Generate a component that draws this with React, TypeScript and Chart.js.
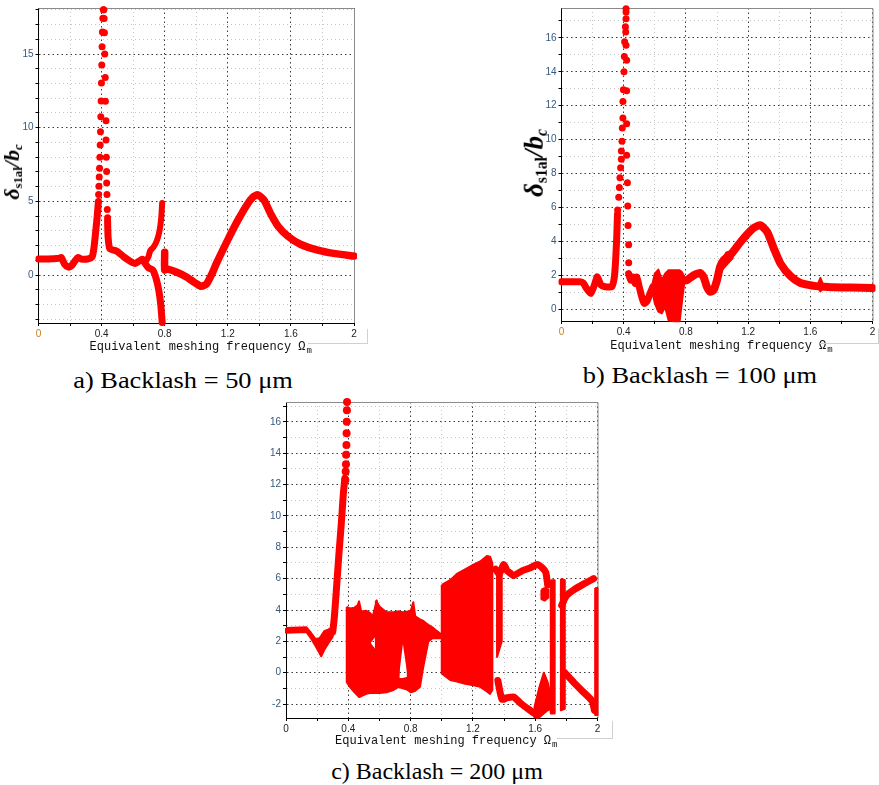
import React, { useEffect, useRef } from 'react';
import { Chart, registerables } from 'chart.js';

Chart.register(...registerables);

type Pt = number[];

const RED = '#ff0000';

// ---------- shared axis values ----------
const xRange = [0, 2];
const xGridStep = 0.2;
const xLabelStep = 0.4;

// ---------- a) Backlash = 50 µm ----------
const aYRange = [-3.24, 18.12];
const aBranchLeft: Pt[] = [[0, 1.1], [0.06, 1.1], [0.13, 1.15], [0.145, 1.2], [0.165, 0.75], [0.19, 0.55], [0.21, 0.65], [0.23, 0.95], [0.25, 1.2], [0.27, 1.1], [0.31, 1.1], [0.34, 1.25], [0.352, 1.9], [0.363, 3.0], [0.373, 4.1], [0.38, 5.0]];
const aPeakRise: Pt[] = [[0.381, 5.47], [0.383, 6.03], [0.385, 6.66], [0.387, 7.26], [0.389, 8.0], [0.391, 8.83], [0.393, 9.73], [0.395, 10.74], [0.397, 11.82], [0.399, 13.03], [0.401, 14.26], [0.403, 15.49], [0.405, 16.5], [0.408, 17.42], [0.411, 18.0]];
const aPeakFall: Pt[] = [[0.414, 18.0], [0.416, 17.4], [0.418, 16.45], [0.42, 15.0], [0.423, 13.4], [0.424, 11.8], [0.428, 10.47], [0.428, 9.17], [0.43, 8.0], [0.432, 7.04], [0.432, 6.26], [0.434, 5.47], [0.436, 4.46], [0.438, 3.9]];
const aBranchMid: Pt[] = [[0.438, 3.7], [0.441, 2.6], [0.452, 1.8], [0.486, 1.67], [0.507, 1.55], [0.539, 1.26], [0.581, 0.95], [0.613, 0.8], [0.644, 1.0], [0.66, 1.08], [0.676, 0.8], [0.697, 0.5], [0.725, 0.35], [0.745, -0.2], [0.762, -1.0], [0.775, -2.0], [0.784, -3.2]];
const aBranchUp: Pt[] = [[0.687, 1.05], [0.697, 1.25], [0.708, 1.66], [0.729, 1.9], [0.75, 2.34], [0.767, 3.0], [0.778, 3.9], [0.784, 4.9]];
const aBranchRight: Pt[] = [[0.8, 1.55], [0.8, 0.35], [0.814, 0.43], [0.877, 0.2], [0.941, -0.13], [0.99, -0.5], [1.03, -0.75], [1.065, -0.6], [1.1, 0.1], [1.13, 0.85], [1.2, 2.4], [1.26, 3.65], [1.32, 4.75], [1.36, 5.3], [1.39, 5.45], [1.43, 5.1], [1.47, 4.2], [1.52, 3.3], [1.58, 2.65], [1.66, 2.1], [1.77, 1.7], [1.87, 1.48], [2.0, 1.3]];

// ---------- b) Backlash = 100 µm ----------
const bYRange = [-0.69, 17.76];
const bBranchLeft: Pt[] = [[0, 1.62], [0.118, 1.62], [0.14, 1.55], [0.161, 1.23], [0.189, 0.94], [0.215, 1.52], [0.23, 1.91], [0.254, 1.42], [0.28, 1.33], [0.323, 1.33], [0.34, 1.91], [0.348, 2.89], [0.355, 4.2], [0.36, 5.6]];
const bPeakRise: Pt[] = [[0.361, 5.85], [0.368, 6.6], [0.372, 7.18], [0.376, 7.76], [0.38, 8.35], [0.385, 8.84], [0.385, 9.33], [0.389, 9.91], [0.391, 10.69], [0.395, 11.28], [0.395, 12.25], [0.398, 12.94], [0.402, 14.0], [0.404, 14.9], [0.406, 15.77], [0.411, 16.65], [0.415, 17.52]];
const bPeakFall: Pt[] = [[0.415, 17.71], [0.415, 17.13], [0.413, 16.35], [0.415, 15.57], [0.419, 14.68], [0.419, 12.88], [0.419, 10.93], [0.419, 9.08], [0.424, 7.46], [0.426, 6.09], [0.428, 4.94], [0.432, 3.81], [0.432, 2.74]];
const bBranchMid: Pt[] = [[0.432, 2.1], [0.445, 1.72], [0.462, 1.9], [0.473, 1.52], [0.484, 1.9], [0.5, 1.32], [0.516, 0.74], [0.531, 0.35], [0.548, 0.45], [0.57, 0.94], [0.587, 1.32]];
// [x, upper, lower]
const bChaos: Pt[] = [[0.585, 1.5, 1.0], [0.6, 2.1, 0.35], [0.623, 2.34, -0.14], [0.645, 1.72, -0.24], [0.666, 2.1, 0.15], [0.688, 2.3, -0.63], [0.72, 2.3, -0.7], [0.76, 2.3, -0.7], [0.774, 2.2, 0.4], [0.79, 1.9, 1.6]];
const bBranchRight: Pt[] = [[0.79, 1.7], [0.806, 1.72], [0.85, 2.0], [0.892, 2.14], [0.914, 1.9], [0.935, 1.32], [0.957, 1.03], [0.978, 1.13], [1.0, 1.72], [1.02, 2.5], [1.043, 2.9], [1.086, 3.2], [1.129, 3.7], [1.172, 4.2], [1.236, 4.8], [1.28, 4.95], [1.323, 4.55], [1.365, 3.6], [1.408, 2.7], [1.473, 1.95], [1.537, 1.55], [1.623, 1.38], [1.66, 1.35], [1.75, 1.3], [1.86, 1.28], [2.0, 1.25]];
const bBump: Pt[] = [[1.645, 1.4, 1.3], [1.665, 1.85, 1.05], [1.685, 1.4, 1.3]];
const bThick: Pt[] = [[1.03, 2.9, 2.3], [1.06, 3.35, 2.6], [1.1, 3.45, 3.0]];

// ---------- c) Backlash = 200 µm ----------
const cYRange = [-2.89, 17.27];
const cStart: Pt[] = [[0, 2.85, 2.55], [0.13, 2.9, 2.6], [0.16, 2.55, 2.2], [0.19, 2.15, 1.7], [0.215, 2.2, 1.25], [0.226, 2.35, 1.05], [0.245, 2.65, 1.45], [0.27, 2.75, 1.85], [0.3, 2.9, 2.3]];
const cRise: Pt[] = [[0.3, 2.6], [0.31, 3.5], [0.325, 5.5], [0.34, 7.6], [0.355, 9.5], [0.368, 11.4], [0.378, 12.4]];
const cPeakDots: Pt[] = [[0.381, 12.3], [0.383, 12.84], [0.385, 13.3], [0.386, 13.9], [0.388, 14.53], [0.389, 15.27], [0.39, 16.01], [0.391, 16.75], [0.392, 17.27]];
const cChaosA: Pt[] = [[0.39, 4.2, -0.6], [0.41, 4.1, -0.9], [0.44, 4.15, -1.25], [0.46, 4.3, -1.45], [0.469, 4.55, -1.55], [0.483, 3.9, -1.5], [0.516, 3.95, -1.35], [0.54, 3.8, -1.3]];
const cHoleTop: Pt[] = [[0.535, 3.8, 1.9], [0.559, 3.65, 2.2], [0.583, 4.6, 2.5]];
const cHoleBottom: Pt[] = [[0.535, 1.9, -1.3], [0.559, 1.6, -1.3], [0.583, 1.2, -1.3]];
const cChaosB: Pt[] = [[0.577, 4.6, -1.3], [0.602, 4.2, -1.3], [0.645, 3.86, -1.25], [0.69, 3.85, -1.1], [0.723, 3.9, -0.9]];
const cVTop: Pt[] = [[0.717, 3.9, -0.4], [0.75, 3.86, 2.3], [0.788, 3.9, -0.3]];
const cVBottom: Pt[] = [[0.717, -0.4, -0.9], [0.75, -0.4, -1.0], [0.788, -0.3, -1.1]];
const cChaosC: Pt[] = [[0.782, 3.9, -1.1], [0.8, 3.9, -1.25], [0.817, 4.5, -1.2], [0.83, 3.6, -1.15], [0.86, 3.4, -0.9], [0.882, 3.3, 0.4], [0.9, 3.15, 1.3], [0.914, 3.05, 2.0], [0.94, 2.9, 2.2], [0.97, 2.65, 2.2], [0.99, 2.5, 2.2]];
const cChaosD: Pt[] = [[1.0, 5.6, -0.05], [1.054, 5.9, -0.46], [1.097, 6.3, -0.57], [1.15, 6.6, -0.7], [1.204, 6.9, -0.8], [1.247, 7.1, -0.9], [1.29, 7.45, -1.2], [1.31, 7.4, -1.35], [1.325, 7.0, -1.1]];
const cStrip1: Pt[] = [[1.355, 6.6, 1.0], [1.385, 6.2, 2.0]];
const cUpper: Pt[] = [[1.345, 6.6], [1.37, 6.3], [1.397, 6.9], [1.42, 6.5], [1.44, 6.35], [1.462, 6.2], [1.516, 6.5], [1.57, 6.7], [1.613, 6.9], [1.644, 6.7], [1.668, 6.4], [1.68, 5.6]];
const cLower: Pt[] = [[1.36, -0.5], [1.387, -1.7], [1.42, -1.6], [1.462, -1.55], [1.505, -1.94], [1.548, -2.26], [1.591, -2.57], [1.613, -2.7]];
const cLowBlob: Pt[] = [[1.595, -2.2, -2.85], [1.625, -1.0, -2.85], [1.655, 0.0, -2.6], [1.68, -0.6, -2.4], [1.7, -1.5, -2.3]];
const cMidBlob: Pt[] = [[1.64, 5.3, 4.7], [1.66, 5.4, 4.6], [1.685, 5.3, 4.8]];
const cStrip2: Pt[] = [[1.7, 5.9, -2.6], [1.725, 5.9, -2.6]];
const cStrip3: Pt[] = [[1.765, 6.0, -2.4], [1.79, 5.9, -2.3]];
const cRightUpper: Pt[] = [[1.77, 4.3], [1.8, 4.9], [1.85, 5.3], [1.91, 5.65], [1.975, 6.0]];
const cRightLower: Pt[] = [[1.79, 0.0], [1.85, -0.65], [1.9, -1.15], [1.965, -1.8], [1.98, -2.4]];
const cStrip4: Pt[] = [[1.985, 5.4, -2.7], [2.0, 5.4, -2.7]];

// ---------- dataset builders ----------
function lineDs(points: Pt[], width: number, tension = 0.2) {
  return {
    data: points.map(([x, y]) => ({ x, y })),
    showLine: true,
    borderColor: RED,
    backgroundColor: RED,
    borderWidth: width,
    pointRadius: 0,
    pointHoverRadius: 0,
    tension,
    fill: false,
    borderCapStyle: 'round',
    borderJoinStyle: 'round',
    clip: 3,
  };
}
function dotDs(points: Pt[], r: number) {
  return {
    data: points.map(([x, y]) => ({ x, y })),
    showLine: false,
    pointRadius: r,
    pointHoverRadius: r,
    pointBackgroundColor: RED,
    pointBorderColor: RED,
    pointBorderWidth: 0,
    clip: 4,
  };
}
// A dense chaotic band: outline = upper edge left→right, then lower edge right→left, filled as a shape.
function bandDs(rows: Pt[]) {
  const top = rows.map(([x, hi]) => ({ x, y: hi }));
  const bottom = rows.slice().reverse().map(([x, , lo]) => ({ x, y: lo }));
  const outline = [...top, ...bottom, top[0]];
  return [
    {
      data: outline,
      showLine: true,
      borderColor: RED,
      borderWidth: 2,
      pointRadius: 0,
      tension: 0,
      fill: 'shape',
      backgroundColor: RED,
      clip: 2,
      borderJoinStyle: 'round',
    },
  ];
}

const near = (v: number, step: number) => Math.abs(v - Math.round(v / step) * step) < 1e-6;

// ---------- plugins ----------
const framePlugin = {
  id: 'frame',
  beforeDatasetsDraw(chart: any) {
    const { ctx, chartArea: a } = chart;
    ctx.save();
    ctx.strokeStyle = '#8a8a8a';
    ctx.lineWidth = 1;
    ctx.beginPath();
    ctx.moveTo(a.left, a.top + 0.5);
    ctx.lineTo(a.right + 0.5, a.top + 0.5);
    ctx.lineTo(a.right + 0.5, a.bottom);
    ctx.stroke();
    ctx.restore();
  },
};

const xTitlePlugin = {
  id: 'xTitle',
  afterDraw(chart: any, _args: any, opts: any) {
    const { ctx, chartArea: a } = chart;
    const main = 'Equivalent meshing frequency Ω';
    const sub = 'm';
    ctx.save();
    ctx.fillStyle = '#111';
    ctx.textBaseline = 'middle';
    ctx.font = '12px "Liberation Mono", monospace';
    const w1 = ctx.measureText(main).width;
    ctx.font = '9px "Liberation Mono", monospace';
    const w2 = ctx.measureText(sub).width;
    const cx = (a.left + a.right) / 2 + (opts.dx || 0);
    const x0 = cx - (w1 + w2) / 2;
    const y = a.bottom + (opts.dy || 24);
    ctx.font = '12px "Liberation Mono", monospace';
    ctx.fillText(main, x0, y);
    ctx.font = '9px "Liberation Mono", monospace';
    ctx.fillText(sub, x0 + w1 + 1, y + 4);
    ctx.restore();
  },
};

// ---------- panel ----------
interface PanelCfg {
  left: number;
  top: number;
  width: number;
  height: number;
  area: number[]; // l, t, r, b within canvas
  yRange: number[];
  yLabelStep: number;
  datasets: any[];
  titleDy: number;
  zeroColor: string;
}

const YW = 30;
const XH = 16;

function Panel({ cfg }: { cfg: PanelCfg }) {
  const ref = useRef<HTMLCanvasElement>(null);
  useEffect(() => {
    if (!ref.current) return;
    const [l, t, r, b] = cfg.area;
    const chart = new Chart(ref.current, {
      type: 'scatter',
      data: { datasets: cfg.datasets },
      plugins: [framePlugin, xTitlePlugin],
      options: {
        responsive: false,
        animation: false,
        events: [],
        layout: { padding: { left: l - YW, top: t, right: cfg.width - r, bottom: cfg.height - b - XH } },
        plugins: {
          legend: { display: false },
          tooltip: { enabled: false },
          xTitle: { dx: 4, dy: cfg.titleDy },
        } as any,
        scales: {
          x: {
            type: 'linear',
            min: xRange[0],
            max: xRange[1],
            afterFit: (s: any) => { s.height = XH; },
            ticks: {
              stepSize: xGridStep,
              autoSkip: false,
              includeBounds: false,
              maxRotation: 0,
              padding: 2,
              font: { family: '"Liberation Sans", sans-serif', size: 10 },
              color: (c: any) => (c.tick && c.tick.value === 0 ? cfg.zeroColor : '#222'),
              callback: (v: any) => {
                const n = Number(v);
                return near(n, xLabelStep) ? String(Math.round(n * 10) / 10) : '';
              },
            },
            grid: {
              color: (c: any) => (c.tick && near(c.tick.value, xLabelStep) ? '#3a3a3a' : '#c4c4c4'),
              lineWidth: 1,
              tickLength: 3,
              tickColor: '#000',
            },
            border: {
              display: true,
              color: '#000',
              width: 1,
              dash: (c: any) => (c.tick && near(c.tick.value, xLabelStep) ? [1.5, 3] : [1, 3]),
            },
          },
          y: {
            type: 'linear',
            min: cfg.yRange[0],
            max: cfg.yRange[1],
            afterFit: (s: any) => { s.width = YW; },
            ticks: {
              stepSize: 1,
              autoSkip: false,
              includeBounds: false,
              maxTicksLimit: 1000,
              padding: 2,
              font: { family: '"Liberation Sans", sans-serif', size: 10 },
              color: '#35587e',
              callback: (v: any) => {
                const n = Number(v);
                return near(n, cfg.yLabelStep) ? String(Math.round(n)) : '';
              },
            },
            grid: {
              color: (c: any) => (c.tick && near(c.tick.value, cfg.yLabelStep) ? '#3a3a3a' : '#c4c4c4'),
              lineWidth: 1,
              tickLength: 3,
              tickColor: '#000',
            },
            border: {
              display: true,
              color: '#000',
              width: 1,
              dash: (c: any) => (c.tick && near(c.tick.value, cfg.yLabelStep) ? [1.5, 3] : [1, 3]),
            },
          },
        } as any,
      } as any,
    });
    return () => chart.destroy();
  }, []);
  return (
    <canvas
      ref={ref}
      width={cfg.width}
      height={cfg.height}
      style={{ position: 'absolute', left: cfg.left, top: cfg.top, width: cfg.width, height: cfg.height }}
    />
  );
}

const panelA: PanelCfg = {
  left: 0, top: 0, width: 370, height: 360,
  area: [38.5, 6, 354, 323],
  yRange: aYRange, yLabelStep: 5, titleDy: 24, zeroColor: '#c8801e',
  datasets: [
    lineDs(aBranchLeft, 7),
    dotDs(aPeakRise, 3.5),
    dotDs(aPeakFall, 3.5),
    lineDs(aBranchMid, 7),
    lineDs(aBranchUp, 6),
    lineDs(aBranchRight, 7.5),
  ],
};

const panelB: PanelCfg = {
  left: 520, top: 0, width: 359, height: 360,
  area: [41.5, 6, 352.5, 321],
  yRange: bYRange, yLabelStep: 2, titleDy: 25, zeroColor: '#c8801e',
  datasets: [
    lineDs(bBranchLeft, 7),
    dotDs(bPeakRise, 3.5),
    dotDs(bPeakFall, 3.5),
    lineDs(bBranchMid, 7),
    ...bandDs(bChaos),
    ...bandDs(bThick),
    ...bandDs(bBump),
    lineDs(bBranchRight, 8),
  ],
};

const panelC: PanelCfg = {
  left: 246, top: 394, width: 366, height: 360,
  area: [40, 6, 351.5, 324],
  yRange: cYRange, yLabelStep: 2, titleDy: 23, zeroColor: '#222',
  datasets: [
    ...bandDs(cStart),
    lineDs(cRise, 7),
    dotDs(cPeakDots, 4),
    ...bandDs(cChaosA),
    ...bandDs(cHoleTop),
    ...bandDs(cHoleBottom),
    ...bandDs(cChaosB),
    ...bandDs(cVTop),
    ...bandDs(cVBottom),
    ...bandDs(cChaosC),
    ...bandDs(cChaosD),
    ...bandDs(cStrip1),
    lineDs(cUpper, 7),
    lineDs(cLower, 7),
    ...bandDs(cLowBlob),
    ...bandDs(cMidBlob),
    ...bandDs(cStrip2),
    ...bandDs(cStrip3),
    lineDs(cRightUpper, 7),
    lineDs(cRightLower, 7),
    ...bandDs(cStrip4),
  ],
};

function YLabel({ cx, cy, size }: { cx: number; cy: number; size: number }) {
  return (
    <div
      style={{
        position: 'absolute', left: cx, top: cy,
        transform: 'translate(-50%, -50%) rotate(-90deg)',
        whiteSpace: 'nowrap',
        fontFamily: '"Liberation Serif", serif',
        fontWeight: 'bold',
        fontStyle: 'italic',
        fontSize: size,
        lineHeight: 1,
        color: '#000',
      }}
    >
      δ<sub style={{ fontSize: '0.58em', fontStyle: 'normal', verticalAlign: '-0.25em' }}>s1al</sub>/b
      <sub style={{ fontSize: '0.58em', verticalAlign: '-0.25em' }}>c</sub>
    </div>
  );
}

function Caption({ cx, top, text, sx }: { cx: number; top: number; text: string; sx: number }) {
  return (
    <div
      style={{
        position: 'absolute', left: cx - 200, top, width: 400, textAlign: 'center',
        fontFamily: '"Liberation Serif", "Times New Roman", serif', fontSize: 24, lineHeight: '24px',
        color: '#000', transform: `scaleX(${sx})`, transformOrigin: 'center',
      }}
    >
      {text}
    </div>
  );
}

function Artifact({ x1, x2, y, vTop }: { x1: number; x2: number; y: number; vTop: number }) {
  return (
    <>
      <div style={{ position: 'absolute', left: x1, top: y, width: x2 - x1, height: 1, background: '#d0d0d0' }} />
      <div style={{ position: 'absolute', left: x2, top: vTop, width: 1, height: y - vTop + 1, background: '#d0d0d0' }} />
    </>
  );
}

export default function App() {
  return (
    <div style={{ position: 'absolute', left: 0, top: 0, width: 879, height: 785, overflow: 'hidden', background: '#fff' }}>
      <Panel cfg={panelA} />
      <Panel cfg={panelB} />
      <Panel cfg={panelC} />
      <YLabel cx={13} cy={172} size={22} />
      <YLabel cx={535} cy={163} size={27} />
      <Artifact x1={308} x2={367} y={343} vTop={329} />
      <Artifact x1={820} x2={878} y={343} vTop={329} />
      <Artifact x1={557} x2={612} y={738} vTop={721} />
      <Caption cx={183} top={368} text="a) Backlash = 50 μm" sx={1.1} />
      <Caption cx={700} top={363} text="b) Backlash = 100 μm" sx={1.1} />
      <Caption cx={437} top={759} text="c) Backlash = 200 μm" sx={1.0} />
    </div>
  );
}
